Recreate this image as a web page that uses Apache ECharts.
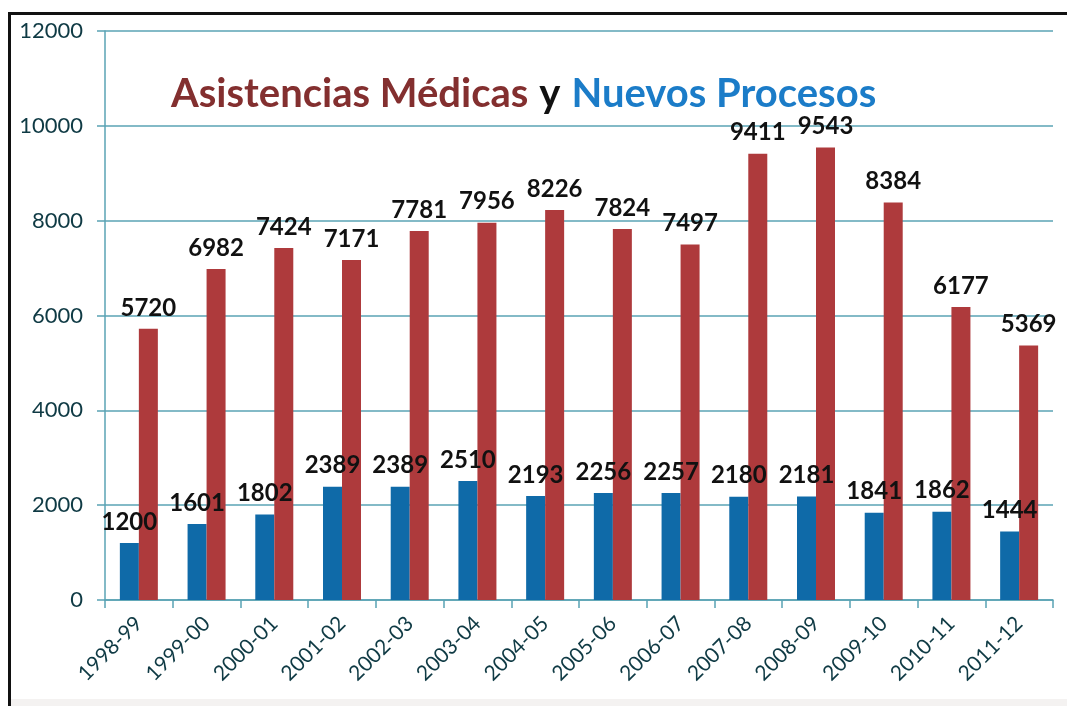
<!DOCTYPE html>
<html>
<head>
<meta charset="utf-8">
<script src="https://cdn.jsdelivr.net/npm/echarts@6/dist/echarts.min.js"></script>
<style>
  html, body { margin: 0; padding: 0; background: #fff; }
  #frame {
    position: absolute; left: 8px; top: 12px; width: 1059px; height: 694px;
    border-left: 3px solid #111; border-top: 3px solid #111;
  }
  #strip { position: absolute; left: 11px; top: 699px; width: 1056px; height: 7px; background: #f4f2f1; }
  #chart { position: absolute; left: 0; top: 0; width: 1067px; height: 706px; }
</style>
</head>
<body>
<div id="frame"></div>
<div id="strip"></div>
<div id="chart"></div>
<script>
var years = ['1998-99', '1999-00', '2000-01', '2001-02', '2002-03', '2003-04', '2004-05',
    '2005-06', '2006-07', '2007-08', '2008-09', '2009-10', '2010-11', '2011-12'];
var nuevosProcesos = [1200, 1601, 1802, 2389, 2389, 2510, 2193, 2256, 2257, 2180, 2181, 1841, 1862, 1444];
var asistenciasMedicas = [5720, 6982, 7424, 7171, 7781, 7956, 8226, 7824, 7497, 9411, 9543, 8384, 6177, 5369];
var yTicks = [0, 2000, 4000, 6000, 8000, 10000, 12000];

var axisColor = '#5aa3b4';
var textColor = '#0f3a44';
var font = 'Lato, "Open Sans", sans-serif';

var barLabel = {
    show: true,
    position: 'top',
    distance: 9,
    color: '#111',
    fontWeight: 'bold',
    fontSize: 24,
    fontFamily: font
};

var myChart = echarts.init(document.getElementById('chart'), null, {renderer: 'canvas'});
myChart.setOption({
    animation: false,
    backgroundColor: 'transparent',
    title: {
        left: 166,
        top: 69,
        text: '{r|Asistencias Médicas}{k|y}{b|Nuevos Procesos}',
        textStyle: {
            rich: {
                r: {color: '#832f2f', fontSize: 40, fontWeight: 'bold', fontFamily: font},
                k: {color: '#111', fontSize: 40, fontWeight: 'bold', fontFamily: font, padding: [0, 11, 0, 11]},
                b: {color: '#1b7cc8', fontSize: 40, fontWeight: 'bold', fontFamily: font}
            }
        }
    },
    grid: {left: 105, right: 14, top: 31, bottom: 106, containLabel: false},
    xAxis: {
        type: 'category',
        data: years,
        axisLine: {lineStyle: {color: axisColor, width: 1.5}},
        axisTick: {show: true, length: 8, lineStyle: {color: axisColor, width: 1.5}},
        axisLabel: {
            rotate: 45, margin: 20, color: textColor,
            fontSize: 21, fontFamily: font, interval: 0
        }
    },
    yAxis: {
        type: 'value',
        min: yTicks[0],
        max: yTicks[yTicks.length - 1],
        interval: 2000,
        axisLine: {show: true, lineStyle: {color: axisColor, width: 1.5}},
        axisTick: {show: true, length: 8, lineStyle: {color: axisColor, width: 1.5}},
        splitLine: {lineStyle: {color: axisColor, width: 1.5}},
        axisLabel: {
            margin: 22, color: textColor, fontSize: 22, fontFamily: font,
            formatter: function(v) { return String(v); }
        }
    },
    series: [
        {
            name: 'Nuevos Procesos',
            type: 'bar',
            data: nuevosProcesos,
            barWidth: 19,
            barGap: '0%',
            itemStyle: {color: '#0f6aa8'},
            label: barLabel
        },
        {
            name: 'Asistencias Médicas',
            type: 'bar',
            data: asistenciasMedicas,
            barWidth: 19,
            barGap: '0%',
            itemStyle: {color: '#ae3a3c'},
            label: barLabel
        }
    ]
});
</script>
</body>
</html>
